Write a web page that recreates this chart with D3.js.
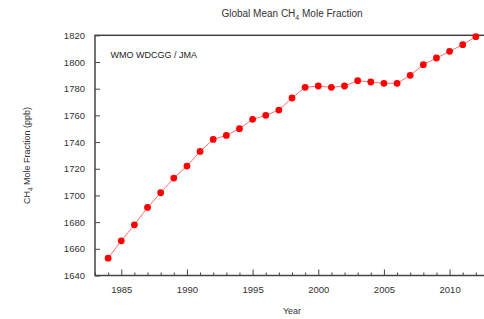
<!DOCTYPE html>
<html>
<head>
<meta charset="utf-8">
<script src="https://cdn.jsdelivr.net/npm/d3@7"></script>
<style>
body { margin: 0; background: #fff; }
svg { display: block; font-family: "Liberation Sans", Arial, sans-serif; }
</style>
</head>
<body>
<script>
// data (ppb)
var years = [1984, 1985, 1986, 1987, 1988, 1989, 1990, 1991, 1992, 1993, 1994, 1995, 1996, 1997, 1998,
             1999, 2000, 2001, 2002, 2003, 2004, 2005, 2006, 2007, 2008, 2009, 2010, 2011, 2012];
var ch4 = [1653, 1666, 1678, 1691, 1702, 1713, 1722, 1733, 1742, 1745, 1750, 1757, 1760, 1764, 1773,
           1781, 1782, 1781, 1782, 1786, 1785, 1784, 1784, 1790, 1798, 1803, 1808, 1813, 1819];
var yTicks = [1640, 1660, 1680, 1700, 1720, 1740, 1760, 1780, 1800, 1820];
var xMajor = [1985, 1990, 1995, 2000, 2005, 2010];

var W = 484, H = 319;
// careful: "top" is taken by window.top
var pLeft = 95, pRight = 489, pTop = 35.3, pBottom = 275.5;

var svg = d3.select("body").append("svg").attr("width", W).attr("height", H);

var x = d3.scaleLinear().domain([1983, 2013]).range([pLeft, pRight]);
var y = d3.scaleLinear().domain([1640, 1820]).range([pBottom, pTop]);

var axisCol = "#444";

// minor ticks every year on bottom
var minor = d3.range(1983, 2014).filter(function(d) { return xMajor.indexOf(d) < 0; });
svg.append("g").attr("transform", "translate(0," + pBottom + ")")
  .call(d3.axisBottom(x).tickValues(minor).tickSize(-3).tickFormat(""))
  .call(function(g) { g.select(".domain").remove(); g.selectAll("line").attr("stroke", axisCol); });

// bottom major
svg.append("g").attr("transform", "translate(0," + pBottom + ")")
  .call(d3.axisBottom(x).tickValues(xMajor).tickSize(-6).tickPadding(11).tickFormat(d3.format("d")))
  .call(function(g) {
    g.select(".domain").remove();
    g.selectAll("line").attr("stroke", axisCol);
    g.selectAll("text").attr("fill", "#333").attr("font-size", 9.5).attr("font-family", null);
  });

// left
svg.append("g").attr("transform", "translate(" + pLeft + ",0)")
  .call(d3.axisLeft(y).tickValues(yTicks).tickSize(-5).tickPadding(10).tickFormat(d3.format("d")))
  .call(function(g) {
    g.select(".domain").remove();
    g.selectAll("line").attr("stroke", axisCol);
    g.selectAll("text").attr("fill", "#333").attr("font-size", 9.5).attr("font-family", null);
  });

// right (mirrored ticks)
svg.append("g").attr("transform", "translate(" + pRight + ",0)")
  .call(d3.axisRight(y).tickValues(yTicks).tickSize(-5).tickFormat(""))
  .call(function(g) { g.select(".domain").remove(); g.selectAll("line").attr("stroke", axisCol); });

// frame
svg.append("rect")
  .attr("x", pLeft).attr("y", pTop)
  .attr("width", pRight - pLeft).attr("height", pBottom - pTop)
  .attr("fill", "none").attr("stroke", axisCol).attr("stroke-width", 1.5);

var pts = years.map(function(d, i) { return [d, ch4[i]]; });

svg.append("path")
  .datum(pts)
  .attr("fill", "none")
  .attr("stroke", "#ff7070")
  .attr("stroke-width", 1)
  .attr("d", d3.line().x(function(d) { return x(d[0]); }).y(function(d) { return y(d[1]); }));

svg.append("g").selectAll("circle")
  .data(pts)
  .join("circle")
  .attr("cx", function(d) { return x(d[0]); })
  .attr("cy", function(d) { return y(d[1]); })
  .attr("r", 3.4)
  .attr("fill", "#ff0000");

// texts
var title = svg.append("text")
  .attr("x", 292).attr("y", 17)
  .attr("text-anchor", "middle").attr("font-size", 10).attr("fill", "#333");
title.append("tspan").text("Global Mean CH");
title.append("tspan").attr("font-size", 7).attr("dy", 3).text("4");
title.append("tspan").attr("dy", -3).text(" Mole Fraction");

svg.append("text")
  .attr("x", 110.5).attr("y", 58)
  .attr("font-size", 9).attr("fill", "#222")
  .text("WMO WDCGG / JMA");

svg.append("text")
  .attr("x", 292).attr("y", 314)
  .attr("text-anchor", "middle").attr("font-size", 9).attr("fill", "#333")
  .text("Year");

var yl = svg.append("text")
  .attr("transform", "translate(30,155.5) rotate(-90)")
  .attr("text-anchor", "middle").attr("font-size", 9).attr("fill", "#333");
yl.append("tspan").text("CH");
yl.append("tspan").attr("font-size", 6.5).attr("dy", 2.5).text("4");
yl.append("tspan").attr("dy", -2.5).text(" Mole Fraction (ppb)");
</script>
</body>
</html>
